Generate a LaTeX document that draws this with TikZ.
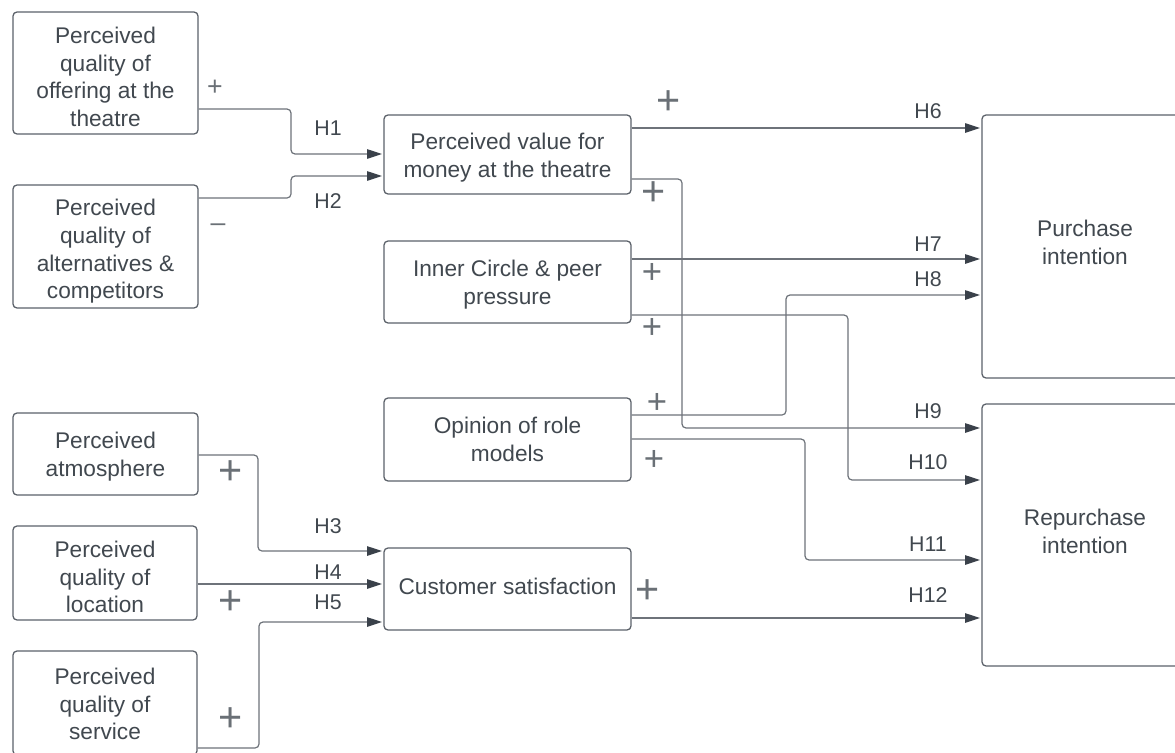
\documentclass[tikz,border=0pt]{standalone}
\usepackage{fontspec}
\setmainfont{Liberation Sans}
\usetikzlibrary{arrows.meta}
\definecolor{txt}{HTML}{41484F}
\definecolor{boxline}{HTML}{5C626A}
\definecolor{conline}{HTML}{6E737A}
\definecolor{tipc}{HTML}{3A414A}
\definecolor{signc}{HTML}{6A7076}
\begin{document}
\begin{tikzpicture}[x=0.75pt,y=-0.75pt,
  frame/.style={draw=boxline, line width=0.95pt, rounded corners=3pt, fill=white, inner sep=0pt},
  btext/.style={align=center, inner sep=0pt, text=txt, font=\fontsize{17}{20.8}\selectfont},
  conn/.style={draw=conline, line width=0.9pt, rounded corners=3pt,
    -{Triangle[length=11pt,width=7pt,color=tipc]}, shorten >=1.1pt},
  hlab/.style={text=txt, inner sep=0pt, font=\fontsize{16}{16}\selectfont},
  signs/.style={text=signc, inner sep=0pt, font=\fontsize{20}{20}\selectfont},
  signm/.style={text=signc, inner sep=0pt, font=\fontsize{26}{26}\selectfont},
  signl/.style={text=signc, inner sep=0pt, font=\fontsize{31}{31}\selectfont}]
\useasboundingbox (0,0) rectangle (1175,753);
\fill[white] (0,0) rectangle (1175,753);
\clip (0,0) rectangle (1175,753);

% left column
\node[frame, minimum width=138.75pt, minimum height=91.5pt] (A) at (105.5,73) {};
\node[btext] (A-t) at ([yshift=-3pt]A.center) {Perceived\\quality of\\offering at the\\theatre};
\node[frame, minimum width=138.75pt, minimum height=92.25pt] (B) at (105.5,246.5) {};
\node[btext] (B-t) at ([yshift=-3.6pt]B.center) {Perceived\\quality of\\alternatives \&\\competitors};
\node[frame, minimum width=138.75pt, minimum height=61.5pt] (ATM) at (105.5,454) {};
\node[btext] (ATM-t) at ([yshift=-1.8pt]ATM.center) {Perceived\\atmosphere};
\node[frame, minimum width=138pt, minimum height=70.5pt] (LOC) at (105,573) {};
\node[btext] (LOC-t) at ([yshift=-3pt]LOC.center) {Perceived\\quality of\\location};
\node[frame, minimum width=138pt, minimum height=78pt] (SER) at (105,703) {};
\node[btext] (SER-t) at ([yshift=-0.8pt]SER.center) {Perceived\\quality of\\service};

% middle column
\node[frame, minimum width=185.25pt, minimum height=59.25pt] (PV) at (507.5,154.5) {};
\node[btext] (PV-t) at ([yshift=-2.6pt]PV.center) {Perceived value for\\money at the theatre};
\node[frame, minimum width=185.25pt, minimum height=61.5pt] (IC) at (507.5,282) {};
\node[btext] (IC-t) at ([yshift=-1.9pt]IC.center) {Inner Circle \& peer\\pressure};
\node[frame, minimum width=185.25pt, minimum height=62.25pt] (OR) at (507.5,439.5) {};
\node[btext] (OR-t) at (OR.center) {Opinion of role\\models};
\node[frame, minimum width=185.25pt, minimum height=61.5pt] (CS) at (507.5,589) {};
\node[btext] (CS-t) at ([yshift=2.2pt]CS.center) {Customer satisfaction};

% right column
\node[frame, minimum width=154.5pt, minimum height=197.25pt] (PI) at (1085,246.5) {};
\node[btext] (PI-t) at ([yshift=3pt]PI.center) {Purchase\\intention};
\node[frame, minimum width=154.5pt, minimum height=196.5pt] (RI) at (1085,535) {};
\node[btext] (RI-t) at ([yshift=2.6pt]RI.center) {Repurchase\\intention};

% connectors
\draw[conn] (A.east |- 0,109) -- (291,109) -- (291,154) -- (PV.west |- 0,154);
\draw[conn] (B.east |- 0,198) -- (291,198) -- (291,176) -- (PV.west |- 0,176);
\draw[conn] (ATM.east |- 0,455) -- (258,455) -- (258,551) -- (CS.west |- 0,551);
\draw[conn] (LOC.east |- 0,584) -- (CS.west |- 0,584);
\draw[conn] (SER.east |- 0,748) -- (259,748) -- (259,622) -- (CS.west |- 0,622);
\draw[conn] (PV.east |- 0,128) -- (PI.west |- 0,128);
\draw[conn] (PV.east |- 0,179) -- (682,179) -- (682,428) -- (RI.west |- 0,428);
\draw[conn] (IC.east |- 0,259) -- (PI.west |- 0,259);
\draw[conn] (IC.east |- 0,315) -- (848,315) -- (848,480) -- (RI.west |- 0,480);
\draw[conn] (OR.east |- 0,415) -- (786,415) -- (786,295) -- (PI.west |- 0,295);
\draw[conn] (OR.east |- 0,439) -- (805,439) -- (805,560) -- (RI.west |- 0,560);
\draw[conn] (CS.east |- 0,618) -- (RI.west |- 0,618);

% hypothesis labels
\node[hlab] (h1) at (328,128) {H1};
\node[hlab] (h2) at (328,201) {H2};
\node[hlab] (h3) at (328,526) {H3};
\node[hlab] (h4) at (328,572) {H4};
\node[hlab] (h5) at (328,602) {H5};
\node[hlab] (h6) at (928,111) {H6};
\node[hlab] (h7) at (928,244) {H7};
\node[hlab] (h8) at (928,279) {H8};
\node[hlab] (h9) at (928,411) {H9};
\node[hlab] (h10) at (928,462) {H10};
\node[hlab] (h11) at (928,544) {H11};
\node[hlab] (h12) at (928,595) {H12};

% signs
\node[signs] (s1) at (215,88) {+};
\node[signs] (s2) at (218,228) {–};
\node[signl] (s3) at (231,473) {+};
\node[signl] (s4) at (231,603) {+};
\node[signl] (s5) at (231,720) {+};
\node[signl] (s6) at (669,103) {+};
\node[signl] (s9) at (654,194) {+};
\node[signm] (s7) at (652,273) {+};
\node[signm] (s10) at (652,328) {+};
\node[signm] (s8) at (657,403) {+};
\node[signm] (s11) at (654,460) {+};
\node[signl] (s12) at (648,592) {+};
\end{tikzpicture}
\end{document}
